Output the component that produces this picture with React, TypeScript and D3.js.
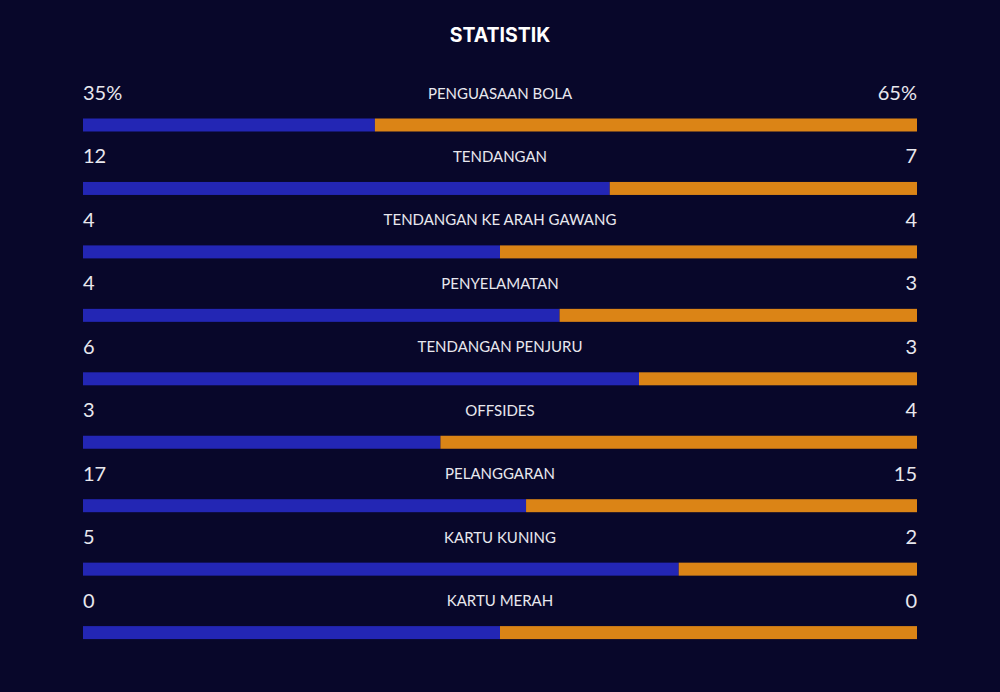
import React, { useEffect, useRef } from 'react';
import * as d3 from 'd3';

const categories = [
  'PENGUASAAN BOLA',
  'TENDANGAN',
  'TENDANGAN KE ARAH GAWANG',
  'PENYELAMATAN',
  'TENDANGAN PENJURU',
  'OFFSIDES',
  'PELANGGARAN',
  'KARTU KUNING',
  'KARTU MERAH',
];
const homeValues = [35, 12, 4, 4, 6, 3, 17, 5, 0];
const awayValues = [65, 7, 4, 3, 3, 4, 15, 2, 0];
const valueSuffix = ['%', '', '', '', '', '', '', '', ''];

const W = 1000;
const H = 692;
const BG = '#08072a';
const BLUE = '#2326b4';
const ORANGE = '#db8416';
const TEXT = '#e8e8ee';

function StatsChart() {
  const ref = useRef<SVGSVGElement>(null);

  useEffect(() => {
    const svg = d3.select(ref.current);
    svg.selectAll('*').remove();

    const left = 83;
    const right = 917;
    const rowStep = 63.45;
    const firstBar = 118.5;
    const barH = 13;

    svg.append('rect').attr('width', W).attr('height', H).attr('fill', BG);

    svg
      .append('text')
      .attr('x', W / 2)
      .attr('y', 42)
      .attr('text-anchor', 'middle')
      .attr('font-family', 'Inter, "Open Sans", sans-serif')
      .attr('font-weight', 700)
      .attr('font-size', 19.5)
      .attr('fill', '#ffffff')
      .text('STATISTIK');

    // fraction scale for the split of each bar
    const x = d3.scaleLinear().domain([0, 1]).range([left, right]);

    const rows = svg
      .selectAll('g.row')
      .data(categories)
      .enter()
      .append('g')
      .attr('class', 'row')
      .attr('transform', (d, i) => `translate(0,${firstBar + i * rowStep})`);

    const share = (i: number) => {
      const tot = homeValues[i] + awayValues[i];
      return tot === 0 ? 0.5 : homeValues[i] / tot;
    };

    rows
      .append('rect')
      .attr('x', x(0))
      .attr('y', 0)
      .attr('width', (d, i) => x(share(i)) - x(0))
      .attr('height', barH)
      .attr('fill', BLUE);
    rows
      .append('rect')
      .attr('x', (d, i) => x(share(i)))
      .attr('y', 0)
      .attr('width', (d, i) => x(1) - x(share(i)))
      .attr('height', barH)
      .attr('fill', ORANGE);

    rows
      .append('text')
      .attr('x', x(0))
      .attr('y', -18.5)
      .attr('font-family', 'Lato, sans-serif')
      .attr('font-size', 20)
      .attr('fill', TEXT)
      .text((d, i) => `${homeValues[i]}${valueSuffix[i]}`);
    rows
      .append('text')
      .attr('x', x(1))
      .attr('y', -18.5)
      .attr('text-anchor', 'end')
      .attr('font-family', 'Lato, sans-serif')
      .attr('font-size', 20)
      .attr('fill', TEXT)
      .text((d, i) => `${awayValues[i]}${valueSuffix[i]}`);
    rows
      .append('text')
      .attr('x', (x(0) + x(1)) / 2)
      .attr('y', -20)
      .attr('text-anchor', 'middle')
      .attr('font-family', 'Lato, sans-serif')
      .attr('font-size', 15)
      .attr('fill', TEXT)
      .text((d) => d);
  }, []);

  return <svg ref={ref} width={W} height={H} style={{ display: 'block' }} />;
}

export default function App() {
  return (
    <div style={{ position: 'absolute', left: 0, top: 0 }}>
      <StatsChart />
    </div>
  );
}
